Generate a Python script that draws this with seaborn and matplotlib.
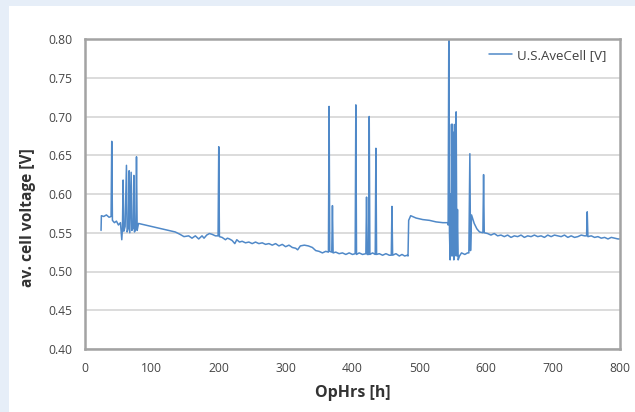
import matplotlib
matplotlib.use("Agg")
import matplotlib.pyplot as plt
from matplotlib.patches import Rectangle
import pandas as pd
import seaborn as sns

# Operating hours [h] and averaged cell voltage [V]
hours = [
    24, 24.5, 28, 32, 36, 39, 40, 41, 44, 47, 50, 53, 55, 56, 57, 58, 60, 62, 63,
    65, 66, 67, 69, 70, 72, 73, 74, 76, 77, 78, 80,
    85, 95, 105, 115, 125, 135, 142, 148, 155, 160, 165, 170, 175, 178, 182, 186,
    190, 195, 199, 200, 201,
    205, 210, 213, 216, 220, 224, 227, 231, 235, 240, 245, 250, 255, 260, 265,
    270, 275, 280, 285, 290, 295, 300, 305, 310, 315, 318, 322, 328, 334, 340,
    345, 350, 355, 360, 364, 365, 366, 369, 370, 371,
    375, 380, 385, 390, 395, 400, 404, 405, 406, 410, 415, 420, 421, 422, 424,
    425, 426, 430, 434, 435, 436, 440, 445, 450, 455, 458, 459, 460, 465, 470,
    474, 478, 482, 483, 484,
    487, 495, 505, 515, 525, 535, 542, 543, 544, 545, 546, 547, 547.5, 548, 549,
    549.5, 550, 551, 551.5, 552, 553, 553.5, 554, 555, 556, 557, 558, 560, 563,
    568, 572, 574, 575.5, 576.5, 578, 582, 586, 590, 595, 596, 597,
    602, 607, 612, 617, 622, 627, 632, 637, 642, 647, 652, 657, 662, 667, 672,
    677, 682, 687, 692, 697, 702, 707, 712, 717, 722, 727, 732, 737, 742, 747,
    750, 751, 752, 757, 762, 767, 772, 777, 782, 787, 792, 797, 800,
]
voltage = [
    0.553, 0.572, 0.571, 0.573, 0.570, 0.571, 0.668, 0.566, 0.563, 0.565, 0.560,
    0.563, 0.541, 0.556, 0.618, 0.552, 0.558, 0.637, 0.551, 0.556, 0.630, 0.550,
    0.628, 0.553, 0.556, 0.624, 0.551, 0.556, 0.648, 0.553, 0.562,
    0.561, 0.559, 0.557, 0.555, 0.553, 0.551, 0.548, 0.545, 0.546, 0.543, 0.546,
    0.542, 0.546, 0.543, 0.547, 0.549, 0.548, 0.546, 0.546, 0.661, 0.545,
    0.544, 0.541, 0.543, 0.542, 0.540, 0.536, 0.541, 0.538, 0.539, 0.537, 0.538,
    0.536, 0.538, 0.536, 0.537, 0.535, 0.536, 0.534, 0.536, 0.533, 0.535, 0.532,
    0.534, 0.531, 0.530, 0.528, 0.533, 0.534, 0.533, 0.531, 0.527, 0.526, 0.524,
    0.526, 0.525, 0.713, 0.526, 0.525, 0.585, 0.524,
    0.525, 0.523, 0.524, 0.522, 0.524, 0.522, 0.523, 0.715, 0.522, 0.524, 0.522,
    0.523, 0.596, 0.522, 0.522, 0.700, 0.522, 0.524, 0.522, 0.659, 0.522, 0.523,
    0.521, 0.523, 0.521, 0.521, 0.584, 0.521, 0.523, 0.520, 0.522, 0.520, 0.521,
    0.520, 0.566,
    0.572, 0.569, 0.567, 0.566, 0.564, 0.563, 0.563, 0.560, 0.800, 0.550, 0.515,
    0.600, 0.520, 0.690, 0.530, 0.690, 0.520, 0.600, 0.515, 0.680, 0.520, 0.690,
    0.530, 0.706, 0.520, 0.580, 0.515, 0.520, 0.524, 0.522, 0.524, 0.524, 0.652,
    0.527, 0.573, 0.562, 0.555, 0.551, 0.550, 0.625, 0.550,
    0.549, 0.547, 0.549, 0.546, 0.547, 0.545, 0.547, 0.544, 0.546, 0.545, 0.547,
    0.544, 0.546, 0.545, 0.547, 0.545, 0.546, 0.544, 0.547, 0.545, 0.547, 0.546,
    0.545, 0.547, 0.544, 0.546, 0.544, 0.545, 0.547, 0.546, 0.546, 0.577, 0.545,
    0.546, 0.544, 0.545, 0.543, 0.544, 0.542, 0.544, 0.543, 0.542, 0.542,
]
series_name = "U.S.AveCell [V]"
x_ticks = [0, 100, 200, 300, 400, 500, 600, 700, 800]
y_ticks = [0.40, 0.45, 0.50, 0.55, 0.60, 0.65, 0.70, 0.75, 0.80]

df = pd.DataFrame({"OpHrs": hours, "voltage": voltage, "series": series_name})

sns.set_theme(style="white")
plt.rcParams["font.family"] = ["Open Sans", "DejaVu Sans"]

W, H = 635, 412
fig = plt.figure(figsize=(W / 100, H / 100), dpi=100)
fig.patch.set_facecolor("#e6eef8")
# white card behind the chart, leaving a light blue strip at top and left
card = Rectangle((9 / W, 0), 1 - 9 / W, 1 - 6 / H, transform=fig.transFigure,
                 facecolor="white", edgecolor="none", zorder=-10)
fig.add_artist(card)

ax = fig.add_axes([85 / W, (H - 349) / H, 535 / W, 310 / H])
ax.set_facecolor("white")
ax.set_zorder(1)
sns.lineplot(data=df, x="OpHrs", y="voltage", hue="series",
             palette=["#5089c8"], linewidth=1.1, ax=ax, sort=False,
             estimator=None)

ax.set_xlim(0, 800)
ax.set_ylim(0.40, 0.80)
ax.set_xticks(x_ticks)
ax.set_yticks(y_ticks)
ax.set_yticklabels([f"{v:.2f}" for v in y_ticks])
ax.grid(axis="y", color="#dcdcdc", linewidth=1.4)
ax.set_axisbelow(True)
for s in ax.spines.values():
    s.set_color("#a3a3a3")
    s.set_linewidth(1.8)
ax.tick_params(axis="both", length=3, width=1, color="#b0b0b0",
               labelsize=8.7, labelcolor="#454545", pad=6)
ax.tick_params(axis="x", pad=6)

ax.set_xlabel("OpHrs [h]", fontsize=11.5, fontweight="bold", color="#333333")
ax.set_ylabel("av. cell voltage [V]", fontsize=11.2, fontweight="bold",
              color="#333333")
ax.xaxis.set_label_coords(0.5, (349 - 385) / 310)
ax.yaxis.set_label_coords((36 - 85) / 535, (349 - 218) / 310)

leg = ax.legend(loc="center left", bbox_to_anchor=(489 / W, 1 - 55.5 / H),
                bbox_transform=fig.transFigure, frameon=False,
                fontsize=9.5, handlelength=1.75, handletextpad=0.38,
                borderpad=0, borderaxespad=0)
for t in leg.get_texts():
    t.set_color("#404040")

fig.savefig("out.png", dpi=100, facecolor=fig.get_facecolor())
